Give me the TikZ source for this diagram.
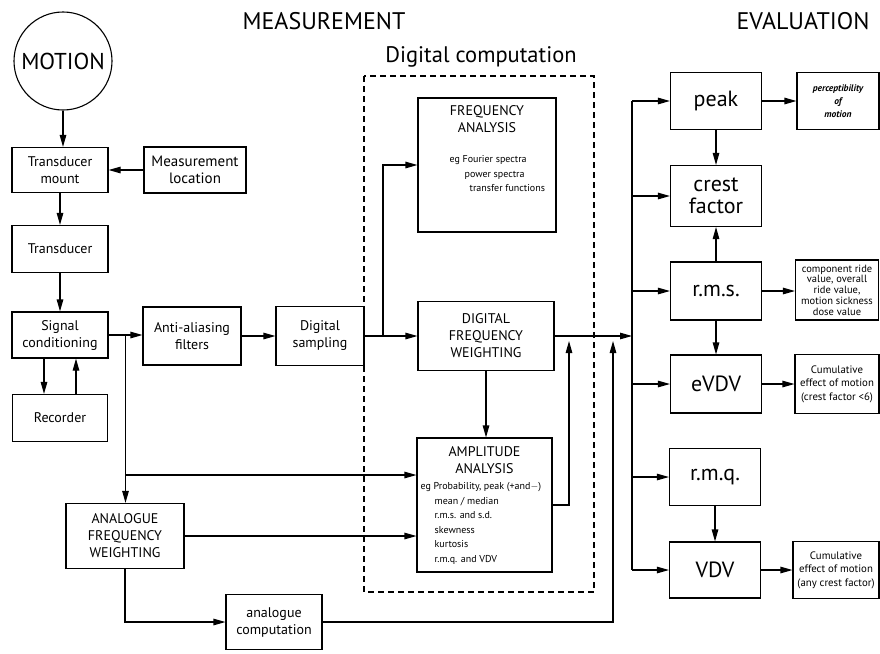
\documentclass[tikz,border=0pt]{standalone}
\usepackage{fontspec}
\setmainfont{PT Sans}
\usetikzlibrary{positioning,calc,arrows.meta}

\begin{document}
\begin{tikzpicture}[x=1pt,y=-1pt,
    box/.style={draw, line width=1.1pt, align=center, inner sep=0pt, font=\fontsize{14}{17}\selectfont},
    evalbox/.style={box, minimum width=91pt, font=\fontsize{22}{23}\selectfont},
    notebox/.style={box, font=\fontsize{10.8}{13.5}\selectfont},
    small/.style={font=\fontsize{10}{14.5}\selectfont, inner sep=0pt},
    conn/.style={line width=1.1pt, -{Triangle[length=12pt,width=6.5pt]}},
    wire/.style={line width=1.1pt},
    heading/.style={font=\fontsize{24}{26}\selectfont}]
    \useasboundingbox (0,0) rectangle (880,653);

    % Headings
    \node[heading] (meas) at (324,21) {MEASUREMENT};
    \node[heading] (evalh) at (803,21) {EVALUATION};

    % Measurement chain
    \node[box, circle, minimum size=98pt, font=\fontsize{23}{24}\selectfont] (motion) at (63,61) {MOTION};
    \node[box, minimum width=96pt, minimum height=45pt] (tmount) at (60,170) {Transducer\\mount};
    \node[box, minimum width=102pt, minimum height=46pt, font=\fontsize{15}{17}\selectfont] (mloc) at (195,170) {Measurement\\location};
    \node[box, minimum width=96pt, minimum height=47pt] (trans) at (60,249) {Transducer};
    \node[box, minimum width=96pt, minimum height=46pt] (sigcon) at (60,335) {Signal\\conditioning};
    \node[box, minimum width=95pt, minimum height=47pt] (recorder) at (60,418) {Recorder};
    \node[box, minimum width=98pt, minimum height=58pt] (antialias) at (192,336) {Anti-aliasing\\filters};
    \node[box, minimum width=88pt, minimum height=59pt] (digsamp) at (320,336) {Digital\\sampling};
    \node[box, minimum width=118pt, minimum height=65pt] (afw) at (125,536) {ANALOGUE\\FREQUENCY\\WEIGHTING};
    \node[box, minimum width=96pt, minimum height=55pt] (anacomp) at (274,622) {analogue\\computation};

    % Digital computation
    \draw[wire, dash pattern=on 6pt off 4pt] (364,76) rectangle (594,592);
    \node[font=\fontsize{22.5}{24}\selectfont] (digcomp) at (481,57) {Digital computation};

    \node[box, minimum width=138pt, minimum height=134pt] (freqan) at (487,165) {};
    \node[below=8pt of freqan.north, align=center, font=\fontsize{14}{17}\selectfont, inner sep=0pt] (fatitle) {FREQUENCY\\ANALYSIS};
    \node[small, anchor=north west, align=left] (fanote) at ($(freqan.north west)+(32,58)$)
        {eg Fourier spectra\\\hspace*{15pt}power spectra\\\hspace*{20pt}transfer functions};

    \node[box, minimum width=136pt, minimum height=69pt] (dfw) at (486,336) {DIGITAL\\FREQUENCY\\WEIGHTING};

    \node[box, minimum width=135pt, minimum height=134pt] (ampan) at (484.5,505) {};
    \node[below=9pt of ampan.north, align=center, font=\fontsize{14}{17}\selectfont, inner sep=0pt] (amptitle) {AMPLITUDE\\ANALYSIS};
    \node[small, anchor=north west, align=left] (amplist) at ($(ampan.north west)+(4,45)$)
        {eg Probability, peak (+and$-$)\\\hspace*{14pt}mean / median\\\hspace*{14pt}r.m.s. and s.d.\\
         \hspace*{14pt}skewness\\\hspace*{14pt}kurtosis\\\hspace*{14pt}r.m.q. and VDV};

    % Evaluation
    \node[evalbox, minimum height=57pt] (peak) at (716,101) {peak};
    \node[evalbox, minimum height=61pt, font=\fontsize{22}{22}\selectfont] (crest) at (716,196) {crest\\factor};
    \node[evalbox, minimum height=58pt] (rms) at (716,291) {r.m.s.};
    \node[evalbox, minimum height=58pt] (evdv) at (716,384) {eVDV};
    \node[evalbox, minimum height=57pt] (rmq) at (715,477) {r.m.q.};
    \node[evalbox, minimum height=56pt] (vdv) at (715,570) {VDV};

    \node[notebox, minimum width=82pt, minimum height=57pt, font=\fontsize{9.5}{13}\selectfont\bfseries\itshape] (percept) at (838,101) {perceptibility\\of\\motion};
    \node[notebox, minimum width=83pt, minimum height=60pt, font=\fontsize{10.5}{10.8}\selectfont] (rmsnote) at (837,290) {component ride\\value, overall\\ride value,\\motion sickness\\dose value};
    \node[notebox, minimum width=84pt, minimum height=59pt] (evdvnote) at (837,384) {Cumulative\\effect of motion\\(crest factor <6)};
    \node[notebox, minimum width=86pt, minimum height=57pt] (vdvnote) at (836,570) {Cumulative\\effect of motion\\(any crest factor)};

    % Connections, measurement
    \draw[conn] (motion.south) -- (motion.south |- tmount.north);
    \draw[conn] (mloc) -- (tmount);
    \draw[conn] (tmount) -- (trans);
    \draw[conn] (trans) -- (sigcon);
    \draw[conn] ([xshift=-16pt]sigcon.south) -- ([xshift=-16pt]sigcon.south |- recorder.north);
    \draw[conn] ([xshift=16pt]recorder.north) -- ([xshift=16pt]recorder.north |- sigcon.south);
    \draw[conn] (sigcon.east) -- (sigcon.east -| antialias.west);
    \coordinate (asplit) at ($(sigcon.east)!0.5!(antialias.west)$);
    \draw[conn] (asplit) -- (asplit |- afw.north);
    \coordinate (ampin) at ([yshift=30pt]ampan.west);
    \draw[conn] (asplit |- ampin) -- (ampin);
    \draw[conn] (afw.east) -- (afw.east -| ampan.west);
    \draw[conn] (afw.south) |- (anacomp.west);
    \draw[conn] (antialias) -- (digsamp);
    \draw[conn] (digsamp.east) -- (digsamp.east -| dfw.west);
    \coordinate (fsplit) at (383,336);
    \draw[conn] (fsplit) |- (freqan.west);
    \draw[conn] (dfw.south) -- (dfw.south |- ampan.north);

    % Connections, evaluation
    \coordinate (bus) at (632,336);
    \draw[conn] (dfw.east) -- (bus);
    \draw[conn] (ampan.east) -| (569,341);
    \draw[conn] (anacomp.east) -| (613,341);
    \draw[wire] (peak.west -| bus) -- (vdv.west -| bus);
    \foreach \n in {peak,crest,rms,evdv,rmq,vdv}
        \draw[conn] (\n.west -| bus) -- (\n.west);
    \draw[conn] (peak) -- (crest);
    \draw[conn] (rms) -- (crest);
    \draw[conn] (rms) -- (evdv);
    \draw[conn] (rmq) -- (vdv);
    \draw[conn] (peak.east) -- (peak.east -| percept.west);
    \draw[conn] (rms.east) -- (rms.east -| rmsnote.west);
    \draw[conn] (evdv.east) -- (evdv.east -| evdvnote.west);
    \draw[conn] (vdv.east) -- (vdv.east -| vdvnote.west);
\end{tikzpicture}
\end{document}
